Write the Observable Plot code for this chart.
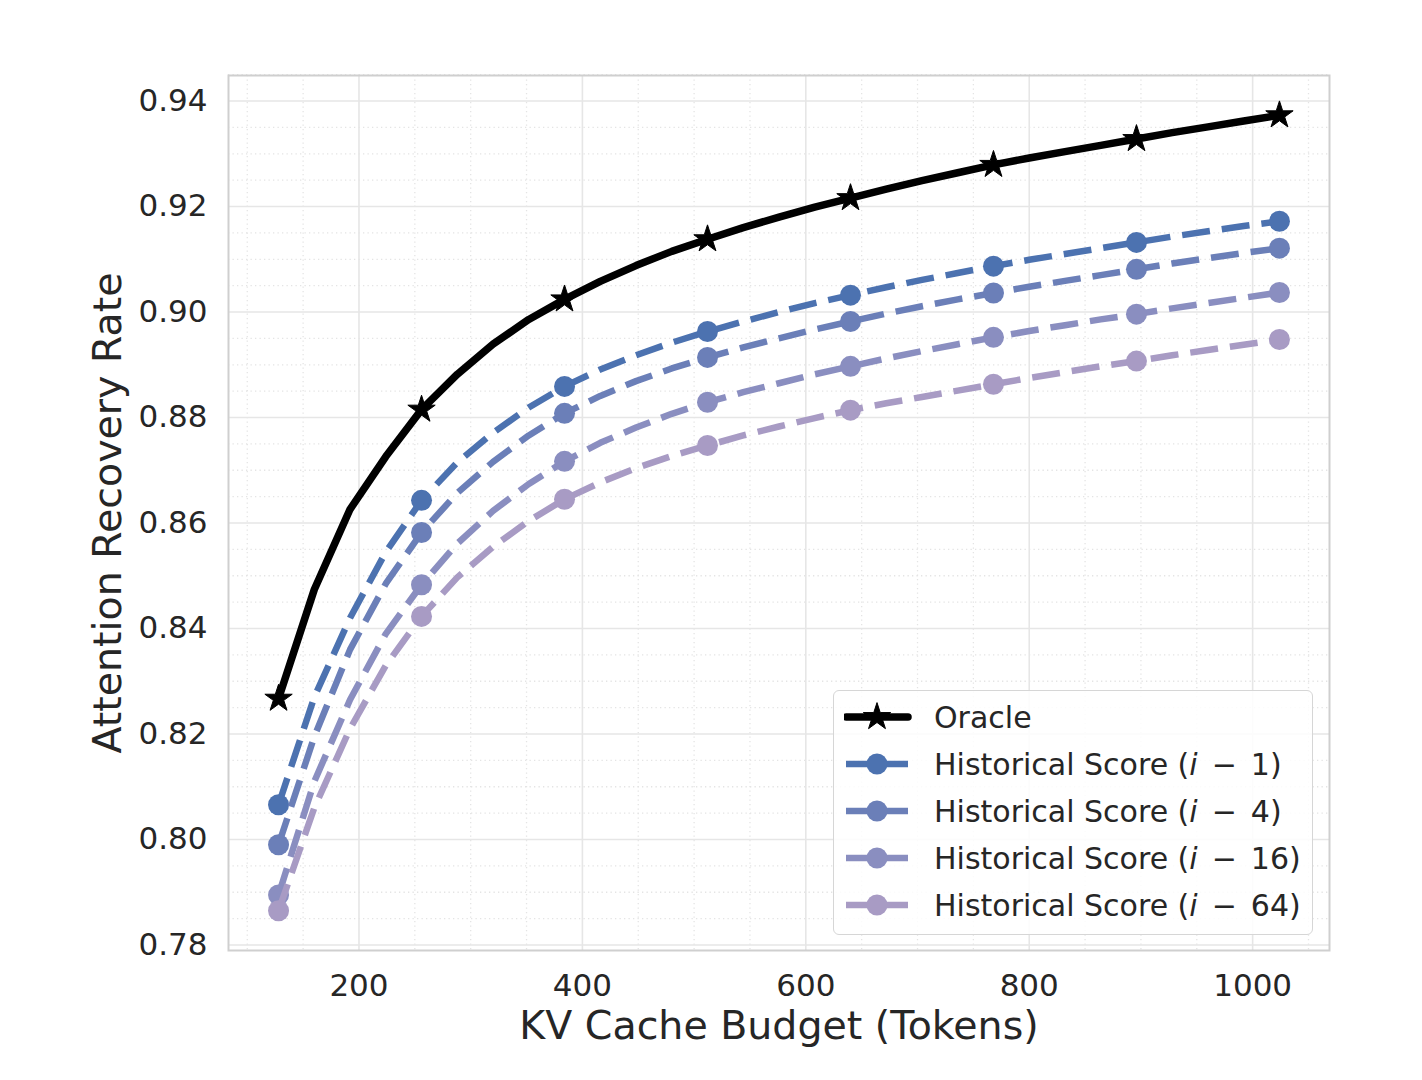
<!DOCTYPE html>
<html>
<head>
<meta charset="utf-8">
<script src="https://cdn.jsdelivr.net/npm/d3@7"></script>
<script src="https://cdn.jsdelivr.net/npm/@observablehq/plot@0.6"></script>
<style>
  body { margin: 0; background: #fff; font-family: "DejaVu Sans", sans-serif; }
  #chart { position: relative; width: 1422px; height: 1080px; }
  #legend {
    position: absolute; left: 833px; top: 690px; width: 480px; height: 245px;
    box-sizing: border-box; border: 1.5px solid #d6d6d6; border-radius: 6px;
    background: rgba(255,255,255,0.85);
  }
  .row { position: absolute; left: 0; height: 47px; }
  .row svg { position: absolute; left: 10px; top: 8px; }
  .row .label { position: absolute; left: 100px; top: 0; white-space: nowrap; font-size: 30px; color: #262626; line-height: 47px; }
  .op { margin: 0 14px; }
</style>
</head>
<body>
<div id="chart"></div>
<script>
// KV cache budget (tokens) at which each curve is sampled
const budgets = [128,160,192,224,256,288,320,352,384,416,448,480,512,544,576,608,640,672,704,736,768,800,832,864,896,928,960,992,1024];
// markers are drawn every 128 tokens
const markerStep = 128;

const oracle = [0.8267,0.8474,0.8626,0.8726,0.8815,0.8882,0.8939,0.8986,0.9024,0.9058,0.9088,0.9115,0.9138,0.9160,0.9180,0.9199,0.9216,0.9233,0.9249,0.9264,0.9279,0.9292,0.9304,0.9316,0.9328,0.9340,0.9351,0.9362,0.9373];
const hist1 = [0.8066,0.8270,0.8420,0.8545,0.8643,0.8715,0.8771,0.8819,0.8859,0.8891,0.8918,0.8942,0.8963,0.8982,0.9000,0.9017,0.9032,0.9047,0.9061,0.9074,0.9087,0.9099,0.9110,0.9121,0.9132,0.9143,0.9153,0.9163,0.9172];
const hist4 = [0.7990,0.8195,0.8360,0.8485,0.8582,0.8657,0.8716,0.8766,0.8808,0.8841,0.8869,0.8893,0.8914,0.8933,0.8950,0.8967,0.8982,0.8997,0.9011,0.9024,0.9036,0.9048,0.9059,0.9070,0.9081,0.9092,0.9102,0.9112,0.9121];
const hist16 = [0.7895,0.8110,0.8265,0.8390,0.8483,0.8561,0.8623,0.8674,0.8717,0.8752,0.8781,0.8807,0.8829,0.8848,0.8865,0.8882,0.8897,0.8912,0.8926,0.8939,0.8952,0.8964,0.8975,0.8986,0.8996,0.9007,0.9017,0.9027,0.9037];
const hist64 = [0.7865,0.8060,0.8210,0.8330,0.8423,0.8497,0.8555,0.8604,0.8645,0.8677,0.8704,0.8727,0.8747,0.8766,0.8783,0.8799,0.8814,0.8827,0.8839,0.8851,0.8863,0.8875,0.8886,0.8897,0.8907,0.8918,0.8928,0.8938,0.8948];

const seriesKeys = ["Oracle", "Historical Score (i − 1)", "Historical Score (i − 4)", "Historical Score (i − 16)", "Historical Score (i − 64)"];
const historyLags = [1, 4, 16, 64];
const seriesValues = [oracle, hist1, hist4, hist16, hist64];
const seriesColors = ["#000000", "#4c72b0", "#6b7fb8", "#8a8ec0", "#a89bc4"];

const xTicks = [200, 400, 600, 800, 1000];
const yTicks = [0.78, 0.80, 0.82, 0.84, 0.86, 0.88, 0.90, 0.92, 0.94];
const xMinor = d3.range(100, 1051, 50).filter(v => !xTicks.includes(v));
const yMinor = d3.range(0, 34).map(i => +(0.78 + i * 0.005).toFixed(3)).filter(v => !yTicks.some(t => Math.abs(t - v) < 1e-9));

const rows = seriesKeys.flatMap((key, s) => budgets.map((b, i) => ({ key, s, budget: b, rate: seriesValues[s][i] })));

const marks = [
  Plot.ruleX(xMinor, { stroke: "#e4e4e4", strokeWidth: 1.3, strokeDasharray: "1.3,3.2" }),
  Plot.ruleY(yMinor, { stroke: "#e4e4e4", strokeWidth: 1.3, strokeDasharray: "1.3,3.2" }),
  Plot.ruleX(xTicks, { stroke: "#e6e6e6", strokeWidth: 1.6 }),
  Plot.ruleY(yTicks, { stroke: "#e6e6e6", strokeWidth: 1.6 }),
  Plot.frame({ stroke: "#cfcfcf", strokeWidth: 2 }),
  Plot.axisX({ ticks: xTicks, tickSize: 0, tickPadding: 23, fontSize: 31, fill: "#262626", label: null, tickFormat: d3.format("d") }),
  Plot.axisY({ ticks: yTicks, tickSize: 0, tickPadding: 21, fontSize: 31, fill: "#262626", label: null, tickFormat: d3.format(".2f") }),
  Plot.text(["KV Cache Budget (Tokens)"], { frameAnchor: "bottom", lineAnchor: "middle", textAnchor: "middle", dy: 76, fontSize: 39.5, fill: "#262626" }),
  Plot.text(["Attention Recovery Rate"], { frameAnchor: "left", lineAnchor: "middle", textAnchor: "middle", dx: -120, rotate: -90, fontSize: 39.5, fill: "#262626" })
];

seriesKeys.forEach((key, s) => {
  const data = rows.filter(d => d.s === s);
  const dashed = s > 0;
  marks.push(Plot.line(data, {
    x: "budget", y: "rate", stroke: seriesColors[s], strokeWidth: dashed ? 6.5 : 7.5,
    strokeDasharray: dashed ? "28,12" : null, strokeLinecap: dashed ? "butt" : "round", strokeLinejoin: "round"
  }));
  const pts = data.filter(d => d.budget % markerStep === 0);
  marks.push(s === 0
    ? Plot.dot(pts, { x: "budget", y: "rate", symbol: "star", r: 8.6, fill: "#000", stroke: "#000", strokeWidth: 1 })
    : Plot.dot(pts, { x: "budget", y: "rate", r: 10.5, fill: seriesColors[s], stroke: "none" }));
});

const chart = Plot.plot({
  width: 1422, height: 1080,
  marginLeft: 228, marginRight: 93, marginTop: 75, marginBottom: 130,
  style: { fontFamily: "DejaVu Sans, sans-serif", background: "#fff" },
  x: { domain: [83.2, 1068.8] },
  y: { domain: [0.77896, 0.94484] },
  marks
});
const host = document.getElementById("chart");
host.appendChild(chart);

// legend box in the lower right of the plot area
const legend = document.createElement("div");
legend.id = "legend";
seriesKeys.forEach((key, s) => {
  const row = document.createElement("div");
  row.className = "row";
  row.style.top = (2.5 + 47 * s) + "px";
  const c = seriesColors[s];
  const marker = s === 0
    ? `<path d="${d3.symbol(d3.symbolStar, Math.PI * 8.6 * 8.6)()}" transform="translate(33,15)" fill="#000" stroke="#000"/>`
    : `<circle cx="33" cy="15" r="10.5" fill="${c}"/>`;
  row.innerHTML = `<svg width="70" height="30"><line x1="2" x2="64" y1="15" y2="15" stroke="${c}" stroke-width="${s === 0 ? 7.5 : 6.5}" stroke-linecap="${s === 0 ? "round" : "butt"}"/>${marker}</svg>` +
    (s === 0 ? `<span class="label">${key}</span>` : `<span class="label">Historical Score (<i>i</i><span class="op">−</span>${historyLags[s - 1]})</span>`);
  legend.appendChild(row);
});
host.appendChild(legend);
</script>
</body>
</html>
